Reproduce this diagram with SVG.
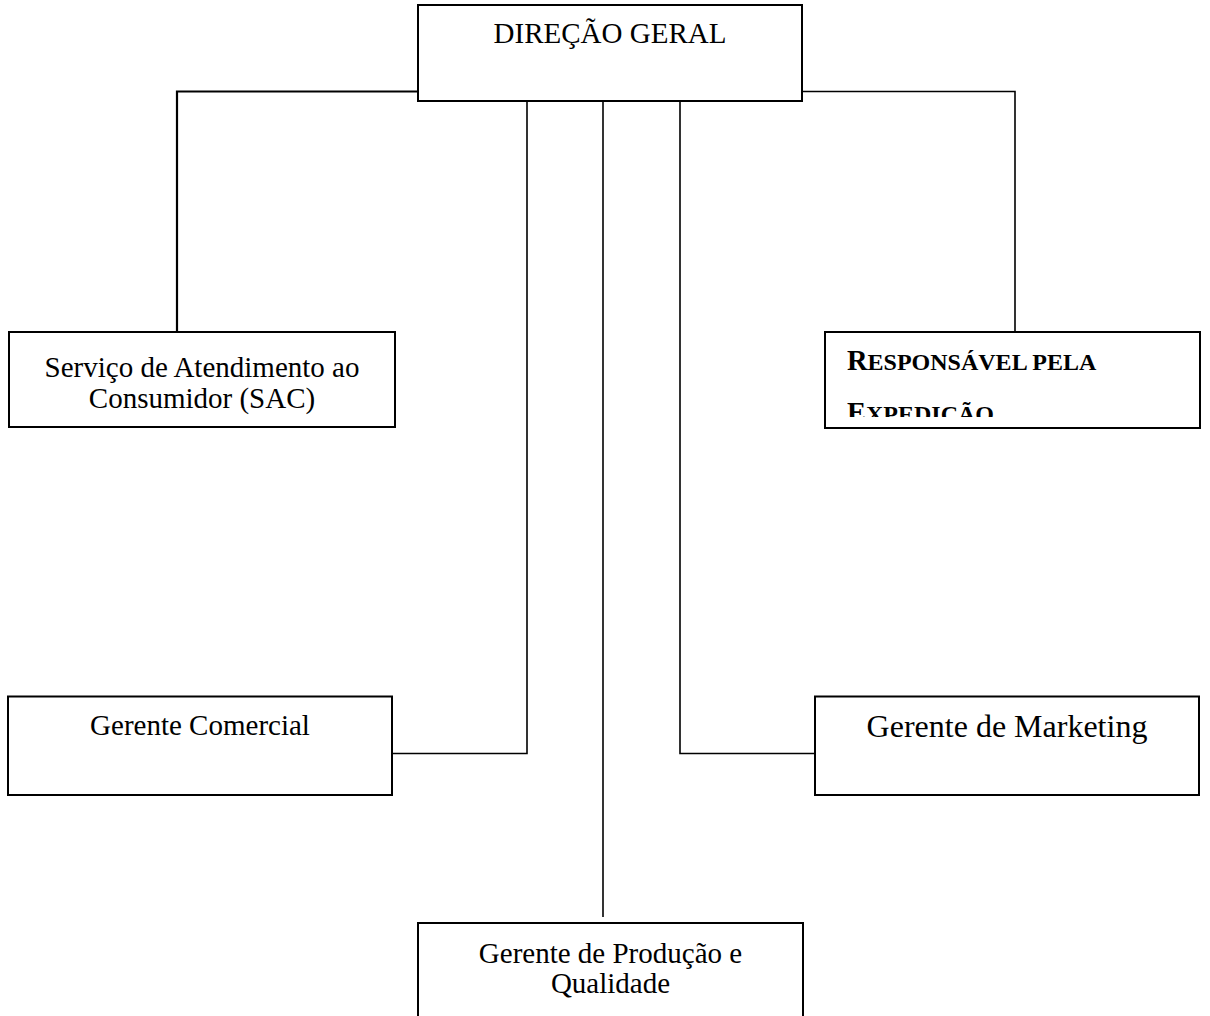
<svg xmlns="http://www.w3.org/2000/svg" width="1210" height="1016" viewBox="0 0 1210 1016">
<style>
.box{fill:#fff;stroke:#000;stroke-width:2}
.t{font-family:"Liberation Serif","Times New Roman",serif;font-size:29px;fill:#000;text-anchor:middle}
.b{font-family:"Liberation Serif","Times New Roman",serif;font-weight:bold;fill:#000}
.ln{stroke:#000;stroke-width:1.6;fill:none}
</style>
<defs>
<clipPath id="clipExp"><rect x="826" y="333" width="373" height="84"/></clipPath>
</defs>
<rect width="1210" height="1016" fill="#fff"/>
<g id="connectors">
<path class="ln" d="M418 91.5 H177 V332" style="stroke-width:2.2"/>
<path class="ln" d="M802 91.5 H1015 V332"/>
<path class="ln" d="M527 101 V753.5 H392"/>
<path class="ln" d="M603 101 V917"/>
<path class="ln" d="M680 101 V753.5 H815"/>
</g>
<g id="direcao">
<rect class="box" x="418" y="5" width="384" height="96"/>
<text class="t" x="610" y="43">DIREÇÃO GERAL</text>
</g>
<g id="sac">
<rect class="box" x="9" y="332" width="386" height="95"/>
<text class="t" x="202" y="377">Serviço de Atendimento ao</text>
<text class="t" x="202" y="408">Consumidor (SAC)</text>
</g>
<g id="expedicao">
<rect class="box" x="825" y="332" width="375" height="96"/>
<g clip-path="url(#clipExp)">
<text class="b" x="847" y="369.5" font-size="28.5">R<tspan font-size="24">ESPONSÁVEL PELA</tspan></text>
<text class="b" x="847" y="422" font-size="28.5">E<tspan font-size="24">XPEDIÇÃO</tspan></text>
</g>
</g>
<g id="comercial">
<rect class="box" x="8" y="696.5" width="384" height="98.5"/>
<text class="t" x="200" y="735">Gerente Comercial</text>
</g>
<g id="marketing">
<rect class="box" x="815" y="696.5" width="384" height="98.5"/>
<text class="t" x="1007" y="737" style="font-size:32px">Gerente de Marketing</text>
</g>
<g id="producao">
<rect class="box" x="418" y="923" width="385" height="100"/>
<text class="t" x="610.5" y="963">Gerente de Produção e</text>
<text class="t" x="610.5" y="993">Qualidade</text>
</g>
</svg>
